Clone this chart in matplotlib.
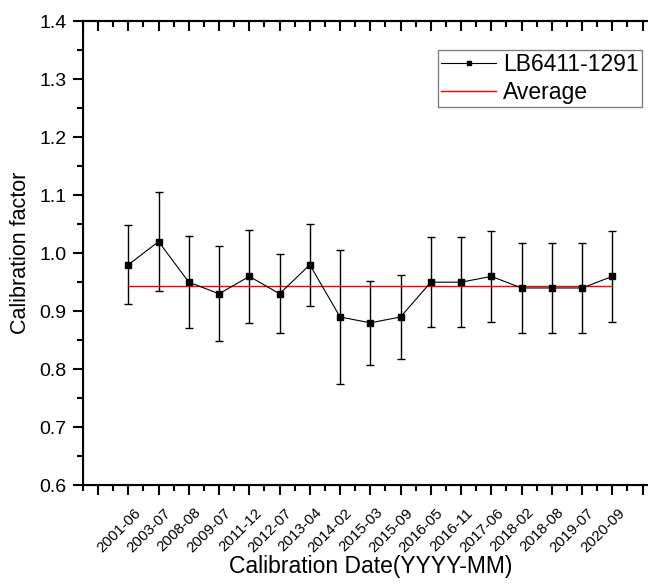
import numpy as np
import matplotlib
matplotlib.use('Agg')
import matplotlib.pyplot as plt
import matplotlib.transforms as mtransforms
from matplotlib.lines import Line2D

plt.rcParams['font.family'] = ['Liberation Sans', 'DejaVu Sans']

dates = ['2001-06', '2003-07', '2008-08', '2009-07', '2011-12', '2012-07',
         '2013-04', '2014-02', '2015-03', '2015-09', '2016-05', '2016-11',
         '2017-06', '2018-02', '2018-08', '2019-07', '2020-09']
factors = [0.98, 1.02, 0.95, 0.93, 0.96, 0.93, 0.98, 0.89, 0.88, 0.89,
           0.95, 0.95, 0.96, 0.94, 0.94, 0.94, 0.96]
errors = [0.068, 0.086, 0.079, 0.082, 0.080, 0.068, 0.071, 0.115, 0.072,
          0.072, 0.077, 0.077, 0.079, 0.077, 0.077, 0.077, 0.079]

x = np.arange(len(dates))
average = np.mean(factors)

fig = plt.figure(figsize=(6.48, 5.84), dpi=100)
ax = fig.add_axes((0.128, 0.169, 0.887, 0.795))

ax.errorbar(x, factors, yerr=errors, fmt='-s', color='black', lw=0.8,
            ms=4.5, elinewidth=1, capsize=3, capthick=1)
ax.plot([x[0], x[-1]], [average, average], color='red', lw=1)

ax.set_xlim(-1.5, 17.5)
ax.set_ylim(0.6, 1.4)
ax.set_xticks(np.arange(-1, 18, 1))
ax.set_xticks(np.arange(-1.5, 17.6, 0.5), minor=True)
ax.set_yticks(np.arange(0.6, 1.41, 0.1))
ax.set_yticks(np.arange(0.6, 1.41, 0.05), minor=True)
ax.set_yticklabels(['%.1f' % v for v in np.arange(0.6, 1.41, 0.1)], fontsize=14)

ax.tick_params(which='major', length=7, width=1.5, direction='out')
ax.tick_params(which='minor', length=4, width=1.5, direction='out')
ax.tick_params(axis='x', pad=4)
ax.tick_params(axis='y', pad=5)
for s in ['left', 'bottom', 'top']:
    ax.spines[s].set_linewidth(1.5)
ax.spines['right'].set_visible(False)

# rotated date labels, nudged a little right/down like the original
ax.set_xticklabels([''] + dates + [''], rotation=45, ha='right',
                   rotation_mode='anchor', fontsize=10.8)
shift = mtransforms.ScaledTranslation(5 / 100, -5 / 100, fig.dpi_scale_trans)
for lab in ax.get_xticklabels():
    lab.set_transform(lab.get_transform() + shift)

top = ax.twiny()
top.set_xlim(ax.get_xlim())
top.set_xticks(np.arange(-1, 18, 1))
top.set_xticks(np.arange(-1.5, 17.6, 0.5), minor=True)
top.tick_params(which='major', direction='in', length=7, width=1.5, labeltop=False)
top.tick_params(which='minor', direction='in', length=4, width=1.5)
top.spines['top'].set_linewidth(1.5)
top.spines['right'].set_visible(False)

ax.set_xlabel('Calibration Date(YYYY-MM)', fontsize=16.5, labelpad=0)
ax.set_ylabel('Calibration factor', fontsize=15.5, labelpad=6)

handles = [Line2D([], [], color='black', lw=0.8, marker='s', ms=3),
           Line2D([], [], color='red', lw=1)]
top.legend(handles, ['LB6411-1291', 'Average'], loc='upper right',
           bbox_to_anchor=(0.9907, 0.9144), bbox_transform=fig.transFigure,
           borderaxespad=0, fontsize=16.5, fancybox=False, edgecolor='gray',
           framealpha=1, handlelength=2.4, handletextpad=0.3, borderpad=0.15,
           labelspacing=0.2)

fig.savefig('out.png', dpi=100)
